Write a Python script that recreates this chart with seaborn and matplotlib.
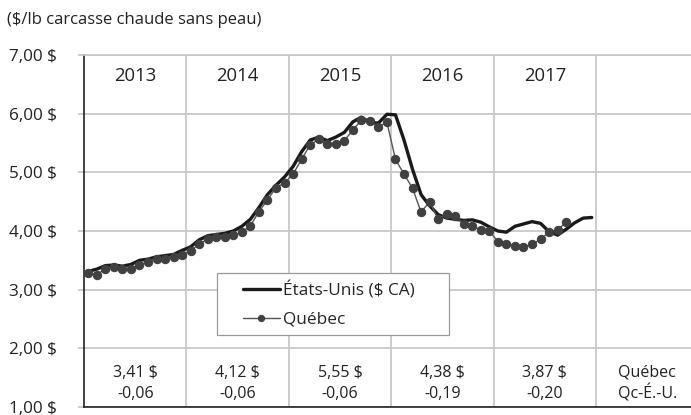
import numpy as np
import pandas as pd
import matplotlib
matplotlib.use("Agg")
import matplotlib.pyplot as plt
from matplotlib.patches import Rectangle
import seaborn as sns

# monthly prices, jan 2013 ->
us_price = [3.31, 3.35, 3.41, 3.42, 3.40, 3.43, 3.50, 3.52, 3.56, 3.58, 3.60, 3.67,
            3.73, 3.85, 3.92, 3.94, 3.96, 4.00, 4.08, 4.20, 4.40, 4.62, 4.78, 4.92,
            5.10, 5.35, 5.55, 5.60, 5.54, 5.60, 5.68, 5.86, 5.94, 5.85, 5.84, 5.99,
            5.98, 5.55, 5.05, 4.62, 4.43, 4.28, 4.22, 4.20, 4.18, 4.19, 4.15, 4.07,
            4.00, 3.98, 4.08, 4.12, 4.16, 4.13, 3.99, 3.93, 4.03, 4.14, 4.22, 4.23]
qc_price = [3.28, 3.25, 3.36, 3.38, 3.35, 3.36, 3.42, 3.48, 3.53, 3.53, 3.55, 3.59,
            3.66, 3.78, 3.86, 3.90, 3.90, 3.93, 3.98, 4.09, 4.33, 4.53, 4.74, 4.82,
            4.97, 5.22, 5.47, 5.56, 5.48, 5.48, 5.54, 5.72, 5.89, 5.87, 5.78, 5.85,
            5.22, 4.97, 4.73, 4.32, 4.50, 4.20, 4.29, 4.26, 4.12, 4.09, 4.01, 4.00,
            3.82, 3.78, 3.75, 3.73, 3.77, 3.86, 3.98, 4.02, 4.15]

years = ["2013", "2014", "2015", "2016", "2017"]
qc_avg = ["3,41 $", "4,12 $", "5,55 $", "4,38 $", "3,87 $"]
qc_diff = ["-0,06", "-0,06", "-0,06", "-0,19", "-0,20"]
y_ticks = [1, 2, 3, 4, 5, 6, 7]
y_labels = ["1,00 $", "2,00 $", "3,00 $", "4,00 $", "5,00 $", "6,00 $", "7,00 $"]

us_df = pd.DataFrame({"mois": np.arange(len(us_price)) + 0.5, "prix": us_price})
qc_df = pd.DataFrame({"mois": np.arange(len(qc_price)) + 0.5, "prix": qc_price})

sns.set_style("white")
plt.rcParams["font.family"] = ["Open Sans", "DejaVu Sans"]

W, H = 691, 415
fig = plt.figure(figsize=(W / 100, H / 100), dpi=100)
ax = fig.add_axes([84 / W, 8 / H, 607 / W, 352 / H])

grid_c = "#c8c8c8"
txt_c = "#222222"
for y in y_ticks:
    ax.axhline(y, color=grid_c, lw=1.3, zorder=0)
for i in range(1, 6):
    ax.axvline(12 * i, color=grid_c, lw=1.3, zorder=0)

sns.lineplot(data=us_df, x="mois", y="prix", ax=ax, color="#1a1a1a", lw=2.4,
             label="États-Unis ($ CA)", zorder=3)
sns.lineplot(data=qc_df, x="mois", y="prix", ax=ax, color="#555555", lw=1.0,
             marker="o", markersize=6, markerfacecolor="#404040",
             markeredgecolor="#404040", label="Québec", zorder=4)

ax.set_xlim(0, 71.13)
ax.set_ylim(1, 7)
ax.set_xticks([])
ax.set_yticks(y_ticks)
ax.set_yticklabels(y_labels, fontsize=12.3, color=txt_c)
ax.tick_params(axis="y", length=4.3, color=grid_c, width=1.3, pad=15, left=True)
ax.set_xlabel("")
ax.set_ylabel("")

ax.spines["right"].set_visible(False)
ax.spines["top"].set_color(grid_c)
ax.spines["top"].set_linewidth(1.3)
for s in ["left", "bottom"]:
    ax.spines[s].set_color(txt_c)
    ax.spines[s].set_linewidth(1.2)

for i, yr in enumerate(years):
    cx = 12 * i + 6
    ax.text(cx, 6.64, yr, ha="center", va="center", fontsize=13.3, color=txt_c)
    ax.text(cx, 1.58, qc_avg[i], ha="center", va="center", fontsize=11.5, color=txt_c)
    ax.text(cx, 1.23, qc_diff[i], ha="center", va="center", fontsize=11.5, color=txt_c)
ax.text(66, 1.58, "Québec", ha="center", va="center", fontsize=11.5, color=txt_c)
ax.text(66, 1.23, "Qc-É.-U.", ha="center", va="center", fontsize=11.5, color=txt_c)

# legend box drawn separately so the padding matches the original
box = Rectangle((216.7 / W, 1 - 335 / H), 232.6 / W, 61.7 / H, transform=fig.transFigure,
                facecolor="white", edgecolor="#999999", lw=0.9, zorder=5)
ax.add_patch(box)
box.set_clip_on(False)
leg = ax.legend(loc="upper left", bbox_to_anchor=(242.7 / W, 1 - 281 / H),
                bbox_transform=fig.transFigure, borderaxespad=0, borderpad=0,
                fontsize=12.4, frameon=False, handlelength=2.17,
                handletextpad=0.15, labelspacing=0.75)
leg.set_zorder(6)
leg.legend_handles[1].set_markersize(4.5)

fig.text(7 / W, 1 - 20 / H, "($/lb carcasse chaude sans peau)", fontsize=12,
         color=txt_c, va="center", ha="left")

fig.savefig("out.png", dpi=100)
